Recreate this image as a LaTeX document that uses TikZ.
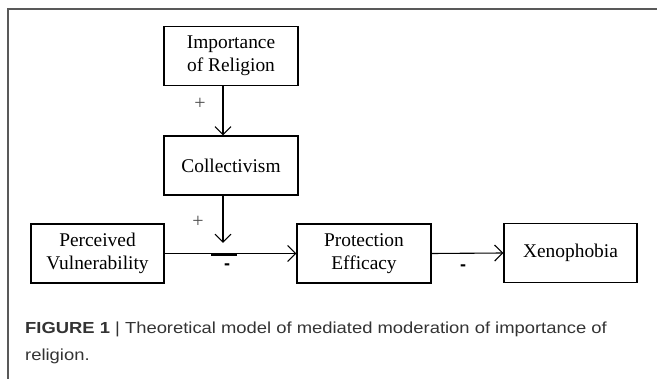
\documentclass[tikz,border=0pt]{standalone}
\usepackage{fontspec}
\setmainfont{Liberation Serif}
\newfontfamily\capfont{Liberation Sans}
\usetikzlibrary{arrows.meta}
\begin{document}
\begin{tikzpicture}[x=1pt,y=-1pt,
  box/.style={draw,line width=1.2pt,minimum width=134pt,minimum height=59pt,inner sep=0pt,align=center,font=\fontsize{19.4}{23}\selectfont},
  conn/.style={line width=1.1pt,-{Straight Barb[length=8pt,width=16pt,line width=1.1pt]}},
  plus/.style={font=\fontsize{20}{20}\selectfont,text=black!70},
  minus/.style={font=\capfont\bfseries\fontsize{18}{18}\selectfont},
  captext/.style={anchor=base west,inner sep=0pt,font=\capfont\fontsize{16}{16}\selectfont,text=black!80}
]
\useasboundingbox (0,0) rectangle (657,379);
% frame
\draw[line width=1.5pt,black!65] (8,379) -- (8,9) -- (657,9);
% nodes
\node[box] (imp) at (231,56) {Importance\\of Religion};
\node[box] (col) at (231,165.5) {Collectivism};
\node[box,minimum width=133pt] (per) at (97.5,253.5) {Perceived\\Vulnerability};
\node[box] (pro) at (364,253.5) {Protection\\Efficacy};
\node[box,minimum width=133pt] (xen) at (570.5,253) {Xenophobia};
% connectors
\draw[conn] (imp.south -| 223,0) -- (col.north -| 223,0);
\coordinate (modtip) at (223,243);
\draw[conn] (col.south -| 223,0) -- (modtip);
\draw[conn] (per.east) -- (pro.west);
\draw[conn] (pro.east) -- (xen.west);
\coordinate (barL) at (211,254.5);
\coordinate (barR) at (237,254.5);
\draw[line width=2.2pt] (barL) -- (barR);
% labels
\node[plus] (p1) at (200,104) {+};
\node[plus] (p2) at (198,222) {+};
\node[minus] (m1) at (227,267) {-};
\node[minus] (m2) at (463,268) {-};
% caption
\node[captext] (cap1) at (25,334) {\scalebox{1.15}[1]{\textbf{FIGURE 1} \textbar\ Theoretical model of mediated moderation of importance of}};
\node[captext] (cap2) at (25,361) {\scalebox{1.15}[1]{religion.}};
\end{tikzpicture}
\end{document}
